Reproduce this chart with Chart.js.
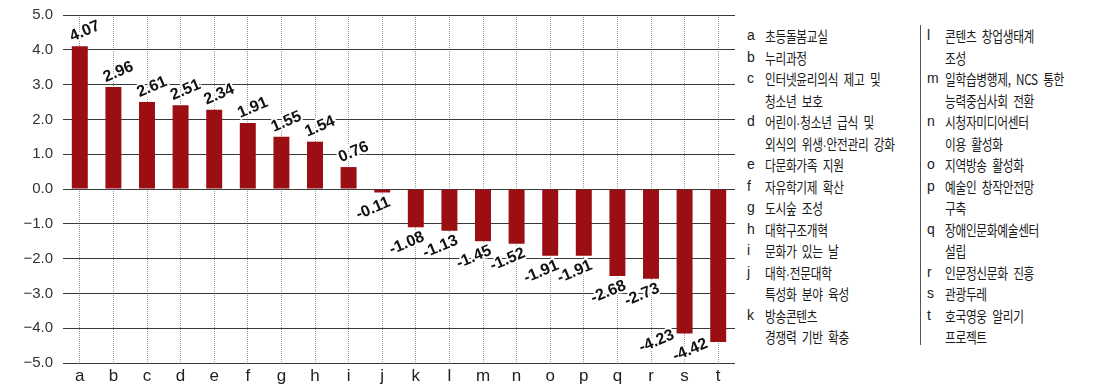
<!DOCTYPE html>
<html>
<head>
<meta charset="utf-8">
<script src="https://cdn.jsdelivr.net/npm/chart.js@4"></script>
<style>
  body { margin: 0; background: #fff; width: 1110px; height: 388px; overflow: hidden; position: relative; }
  #wrap { position: absolute; left: 0; top: -4px; width: 745px; height: 392px; }
  .col { position: absolute; top: 25px; font-family: "Noto Sans CJK KR", sans-serif; font-size: 15px; line-height: 21.5px; color: #1a1a1a; }
  .row { position: relative; height: 21.5px; white-space: nowrap; }
  .row .k { position: absolute; left: 0; top: 0; font-family: "Liberation Sans", sans-serif; font-size: 14px; }
  .row .t { position: absolute; top: 0; display: inline-block; transform: scaleX(0.78); transform-origin: left center; letter-spacing: -0.4px; word-spacing: 4px; }
  .dot { font-family: "Liberation Sans", sans-serif; letter-spacing: 0; }
  #sep { position: absolute; left: 920px; top: 25px; width: 1px; height: 320px; background: #555; }
</style>
</head>
<body>
<div id="wrap"><canvas id="chart" width="745" height="392"></canvas></div>
<div id="sep"></div>
<div class="col" id="legL" style="left:747px;width:170px"></div>
<div class="col" id="legR" style="left:927px;width:180px"></div>
<script>
// Categories and values
const categories = ["a","b","c","d","e","f","g","h","i","j","k","l","m","n","o","p","q","r","s","t"];
const values = [4.07, 2.96, 2.61, 2.51, 2.34, 1.91, 1.55, 1.54, 0.76, -0.11,
  -1.08, -1.13, -1.45, -1.52, -1.91, -1.91, -2.68, -2.73, -4.23, -4.42];
// Bar heights as drawn in the original (labels above differ slightly)
const barValues = [4.1, 2.93, 2.5, 2.41, 2.28, 1.9, 1.5, 1.36, 0.63, -0.1,
  -1.1, -1.2, -1.5, -1.57, -1.92, -1.92, -2.5, -2.58, -4.15, -4.4];
const yTicks = [5, 4, 3, 2, 1, 0, -1, -2, -3, -4, -5];

// Legend entries: [key, lines]
const legendLeft = [
  ["a", ["초등돌봄교실"]],
  ["b", ["누리과정"]],
  ["c", ["인터넷윤리의식 제고 및", "청소년 보호"]],
  ["d", ["어린이·청소년 급식 및", "외식의 위생·안전관리 강화"]],
  ["e", ["다문화가족 지원"]],
  ["f", ["자유학기제 확산"]],
  ["g", ["도시숲 조성"]],
  ["h", ["대학구조개혁"]],
  ["i", ["문화가 있는 날"]],
  ["j", ["대학·전문대학", "특성화 분야 육성"]],
  ["k", ["방송콘텐츠", "경쟁력 기반 확충"]]
];
const legendRight = [
  ["l", ["콘텐츠 창업생태계", "조성"]],
  ["m", ["일학습병행제, NCS 통한", "능력중심사회 전환"]],
  ["n", ["시청자미디어센터", "이용 활성화"]],
  ["o", ["지역방송 활성화"]],
  ["p", ["예술인 창작안전망", "구축"]],
  ["q", ["장애인문화예술센터", "설립"]],
  ["r", ["인문정신문화 진흥"]],
  ["s", ["관광두레"]],
  ["t", ["호국영웅 알리기", "프로젝트"]]
];

function buildLegend(id, entries, textLeft) {
  const el = document.getElementById(id);
  entries.forEach(([key, lines]) => {
    lines.forEach((line, i) => {
      const row = document.createElement("div");
      row.className = "row";
      const k = document.createElement("span");
      k.className = "k";
      k.textContent = i === 0 ? key : "";
      const t = document.createElement("span");
      t.className = "t";
      t.style.left = textLeft + "px";
      // narrow middle dot like the original
      line.split("·").forEach((part, j) => {
        if (j > 0) {
          const d = document.createElement("span");
          d.className = "dot";
          d.textContent = "·";
          t.appendChild(d);
        }
        t.appendChild(document.createTextNode(part));
      });
      row.appendChild(k);
      row.appendChild(t);
      el.appendChild(row);
    });
  });
}
buildLegend("legL", legendLeft, 18);
buildLegend("legR", legendRight, 18);

// Rotated value labels with white halo
const valueLabels = {
  id: "valueLabels",
  afterDatasetsDraw(chart) {
    const ctx = chart.ctx;
    const meta = chart.getDatasetMeta(0);
    ctx.save();
    ctx.font = "bold 16px 'Liberation Sans Narrow', 'Liberation Sans', sans-serif";
    ctx.textAlign = "center";
    ctx.textBaseline = "middle";
    ctx.lineJoin = "round";
    meta.data.forEach((bar, i) => {
      const v = values[i];
      let x = bar.x, y = bar.y;
      if (v >= 0) { x += 5; y -= 15; }
      else if (v < -4) { x -= 28; y += 8; }
      else { x -= 9; y += 16; }
      ctx.save();
      ctx.translate(x, y);
      ctx.rotate(-23 * Math.PI / 180);
      const txt = v.toFixed(2);
      ctx.strokeStyle = "#fff";
      ctx.lineWidth = 4;
      ctx.strokeText(txt, 0, 0);
      ctx.fillStyle = "#111";
      ctx.fillText(txt, 0, 0);
      ctx.restore();
    });
    ctx.restore();
  }
};

new Chart(document.getElementById("chart"), {
  type: "bar",
  data: {
    labels: categories,
    datasets: [{
      data: barValues,
      backgroundColor: "#9b0e12",
      borderWidth: 0,
      barPercentage: 0.95,
      categoryPercentage: 0.5
    }]
  },
  options: {
    responsive: false,
    animation: false,
    devicePixelRatio: 1,
    layout: { padding: { top: 9, right: 10, left: 0, bottom: 0 } },
    plugins: { legend: { display: false }, tooltip: { enabled: false } },
    scales: {
      x: {
        afterFit: (axis) => { axis.height = 25; },
        grid: { offset: false, color: "#999", lineWidth: 1, drawTicks: false },
        border: { display: false, dash: [1, 1] },
        ticks: { color: "#222", font: { family: "Liberation Sans", size: 17 }, padding: 3, maxRotation: 0, autoSkip: false }
      },
      y: {
        min: -5, max: 5,
        afterBuildTicks: (axis) => { axis.ticks = yTicks.map(v => ({ value: v })); },
        afterFit: (axis) => { axis.width = 63; },
        grid: { color: "#3a3a3a", lineWidth: 1, drawTicks: false },
        border: { display: false },
        ticks: {
          color: "#333",
          padding: 10,
          autoSkip: false,
          font: { family: "Liberation Sans", size: 15 },
          callback: (v) => (v < 0 ? "\u2212" + Math.abs(v).toFixed(1) : v.toFixed(1))
        }
      }
    }
  },
  plugins: [valueLabels]
});
</script>
</body>
</html>
